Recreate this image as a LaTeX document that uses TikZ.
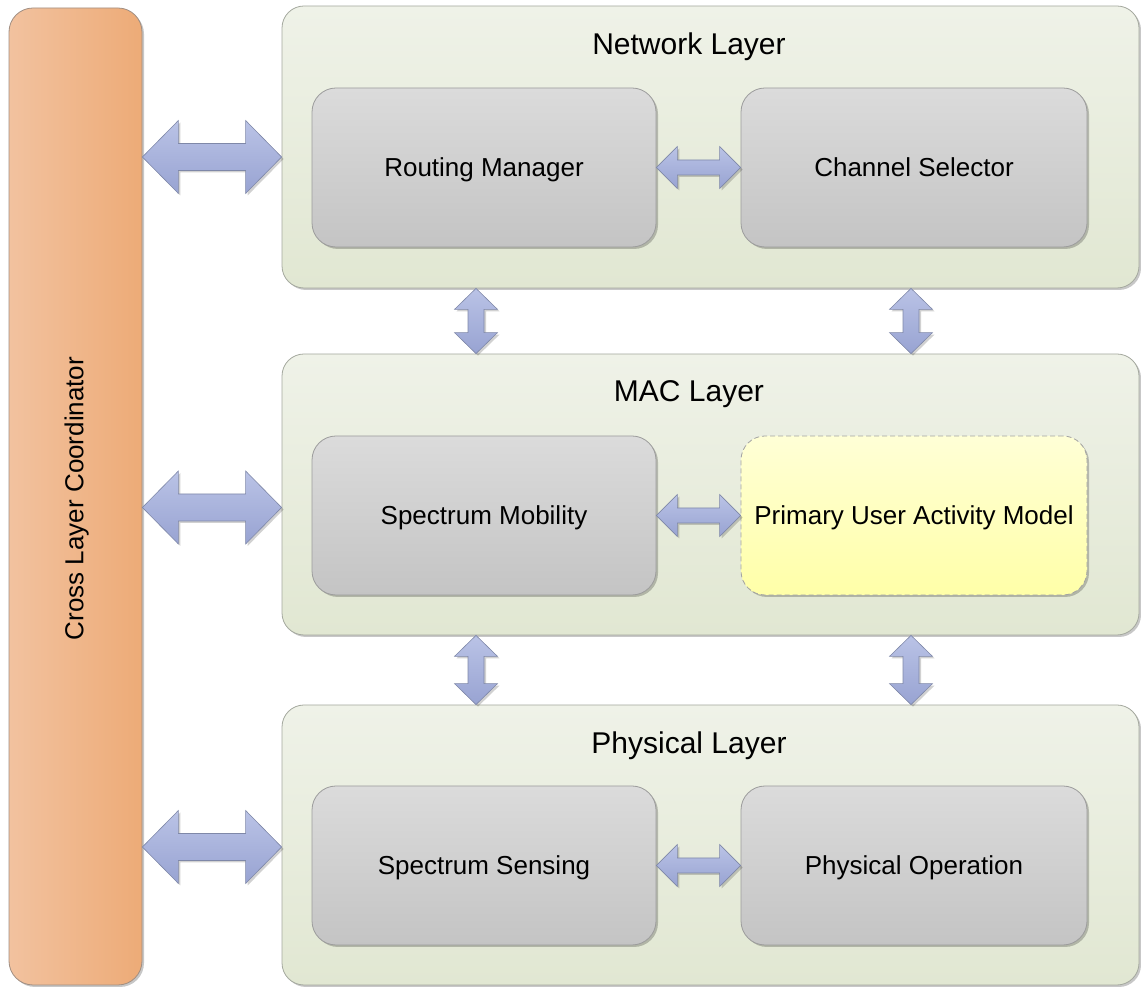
\documentclass[tikz,border=0pt]{standalone}
\usepackage{fontspec}
\setmainfont{Liberation Sans}
\usetikzlibrary{shadows,calc}

% palette
\definecolor{coordL}{HTML}{F2C29F}
\definecolor{coordR}{HTML}{EDAB77}
\definecolor{coordline}{HTML}{A08E82}
\definecolor{layerT}{HTML}{EFF2E8}
\definecolor{layerB}{HTML}{E1E7D2}
\definecolor{layerline}{HTML}{A4A89E}
\definecolor{modT}{HTML}{DBDBDB}
\definecolor{modB}{HTML}{C4C4C4}
\definecolor{modline}{HTML}{9C9C9C}
\definecolor{puT}{HTML}{FFFFD6}
\definecolor{puB}{HTML}{FFFFA8}
\definecolor{puline}{HTML}{A2A2A2}
\definecolor{arrT}{HTML}{BAC3E6}
\definecolor{arrB}{HTML}{98A3D2}
\definecolor{arrline}{HTML}{7F88A8}

\tikzset{
  softshadow/.style={drop shadow={shadow xshift=2pt,shadow yshift=-2pt,opacity=0.22,fill=black}},
  coordbox/.style={draw=coordline, line width=0.8pt, rounded corners=24pt,
    left color=coordL, right color=coordR, softshadow,
    minimum width=133pt, minimum height=977pt, inner sep=0pt},
  layerbox/.style={draw=layerline, line width=0.8pt, rounded corners=22pt,
    top color=layerT, bottom color=layerB, softshadow,
    minimum width=857pt, inner sep=0pt},
  modtext/.style={font=\fontsize{26}{30}\selectfont, text height=18.6pt, text depth=0pt},
  modbox/.style={draw=modline, line width=0.8pt, rounded corners=24pt,
    top color=modT, bottom color=modB, softshadow,
    minimum height=159pt, inner sep=0pt, modtext},
  puabox/.style={draw=puline, line width=0.8pt, dash pattern=on 5pt off 3pt,
    rounded corners=24pt, top color=puT, bottom color=puB, softshadow,
    minimum width=346pt, minimum height=159pt, inner sep=0pt, modtext},
  layertitle/.style={font=\fontsize{30}{34}\selectfont, text height=21.5pt,
    text depth=0pt, inner sep=0pt},
  blockarrow/.style={draw=arrline, line width=0.6pt, top color=arrT, bottom color=arrB,
    drop shadow={shadow xshift=2pt,shadow yshift=-2pt,opacity=0.18,fill=black}},
}

% horizontal double block arrow: #1 left tip, #2 right tip (y of #1),
% #3 head length, #4 half shaft, #5 half head
\newcommand{\hdarrow}[5]{%
  \path[blockarrow] let \p1=(#1), \p2=(#2) in
    (\x1,\y1) -- (\x1+#3,\y1+#5) -- (\x1+#3,\y1+#4) -- (\x2-#3,\y1+#4)
    -- (\x2-#3,\y1+#5) -- (\x2,\y1) -- (\x2-#3,\y1-#5) -- (\x2-#3,\y1-#4)
    -- (\x1+#3,\y1-#4) -- (\x1+#3,\y1-#5) -- cycle;}
% vertical double block arrow: #1 top tip, #2 bottom tip (x of #1)
\newcommand{\vdarrow}[5]{%
  \path[blockarrow] let \p1=(#1), \p2=(#2) in
    (\x1,\y1) -- (\x1+#5,\y1-#3) -- (\x1+#4,\y1-#3) -- (\x1+#4,\y2+#3)
    -- (\x1+#5,\y2+#3) -- (\x1,\y2) -- (\x1-#5,\y2+#3) -- (\x1-#4,\y2+#3)
    -- (\x1-#4,\y1-#3) -- (\x1-#5,\y1-#3) -- cycle;}

\begin{document}
\begin{tikzpicture}[x=1pt,y=1pt]
  \useasboundingbox (0,0) rectangle (1141,988);

  % cross layer coordinator
  \node[coordbox] (coord) at (75.5,491.5) {};
  \node[rotate=90, modtext] (coordtext) at (74,489.5) {Cross Layer Coordinator};

  % layers
  \node[layerbox, minimum height=282pt] (netL) at (710.5,841) {};
  \node[layerbox, minimum height=281pt] (macL) at (710.5,493.5) {};
  \node[layerbox, minimum height=280pt] (phyL) at (710.5,143) {};

  \node[layertitle] (netT) at ($(netL.north)+(-21.5,-38)$) {Network Layer};
  \node[layertitle] (macT) at ($(macL.north)+(-21.5,-37)$) {MAC Layer};
  \node[layertitle] (phyT) at ($(phyL.north)+(-21.5,-38)$) {Physical Layer};

  % modules
  \node[modbox, minimum width=344pt] (route) at (484,820.5) {Routing Manager};
  \node[modbox, minimum width=346pt] (chan)  at (914,820.5) {Channel Selector};
  \node[modbox, minimum width=344pt] (mob)   at (484,472.5) {Spectrum Mobility};
  \node[puabox] (pua) at (914,472.5) {Primary User Activity Model};
  \node[modbox, minimum width=344pt] (sens)  at (484,122.5) {Spectrum Sensing};
  \node[modbox, minimum width=346pt] (phyop) at (914,122.5) {Physical Operation};

  % coordinator <-> layers
  \hdarrow{$(coord.east |- netL.west)+(0,-10)$}{$(netL.west)+(0,-10)$}{36pt}{13.5pt}{36.5pt}
  \hdarrow{$(coord.east |- macL.west)+(0,-13)$}{$(macL.west)+(0,-13)$}{36pt}{13.5pt}{36.5pt}
  \hdarrow{$(coord.east |- phyL.west)+(0,-2)$}{$(phyL.west)+(0,-2)$}{36pt}{13.5pt}{36.5pt}

  % module <-> module
  \hdarrow{route.east}{chan.west}{21pt}{7.5pt}{21pt}
  \hdarrow{mob.east}{pua.west}{21pt}{7.5pt}{21pt}
  \hdarrow{sens.east}{phyop.west}{21pt}{7.5pt}{21pt}

  % layer <-> layer
  \coordinate (ax) at (476,0);
  \coordinate (bx) at (911,0);
  \vdarrow{ax |- netL.south}{ax |- macL.north}{21pt}{8pt}{21.5pt}
  \vdarrow{bx |- netL.south}{bx |- macL.north}{21pt}{8pt}{21.5pt}
  \vdarrow{ax |- macL.south}{ax |- phyL.north}{21pt}{8pt}{21.5pt}
  \vdarrow{bx |- macL.south}{bx |- phyL.north}{21pt}{8pt}{21.5pt}
\end{tikzpicture}
\end{document}
